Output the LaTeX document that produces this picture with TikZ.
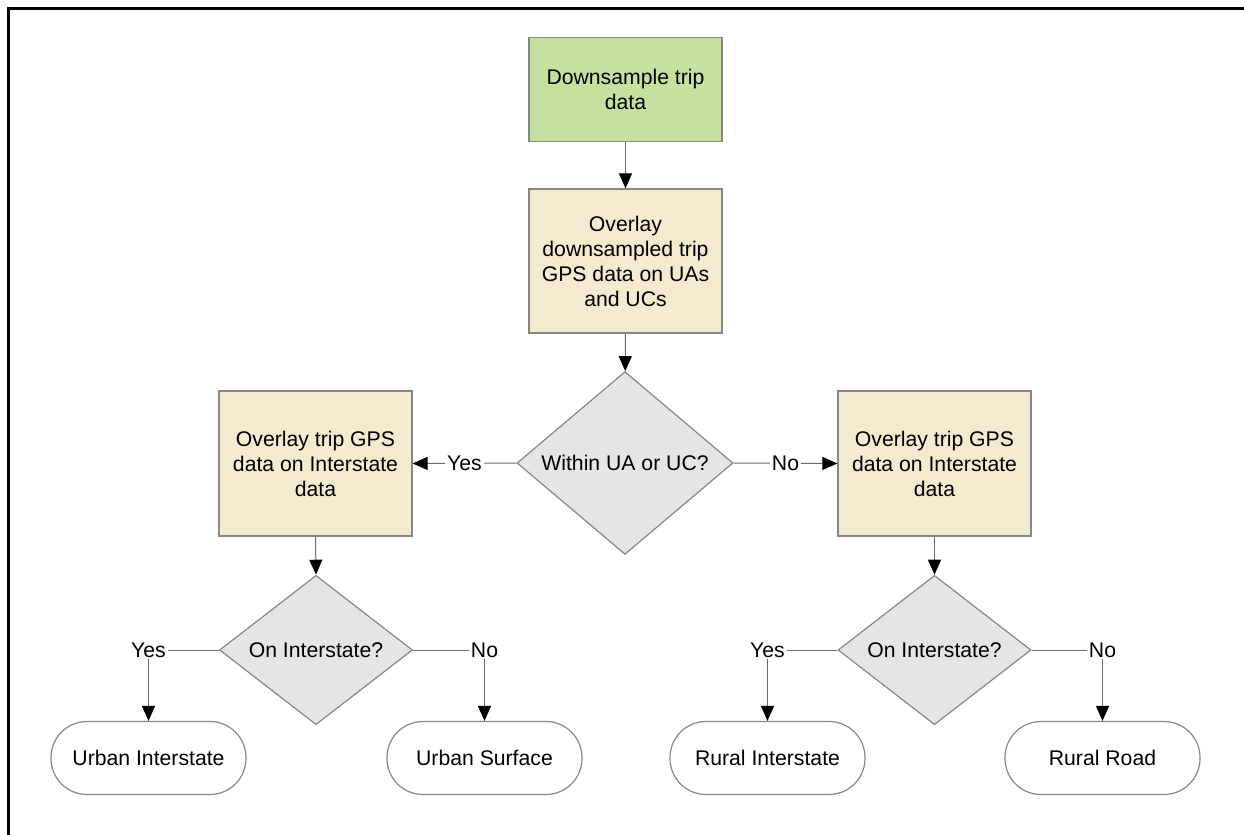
\documentclass[tikz,border=0pt]{standalone}
\usepackage{fontspec}
\setmainfont{Liberation Sans}
\usetikzlibrary{shapes.geometric,arrows.meta}
\definecolor{boxgreen}{RGB}{196,225,160}
\definecolor{boxtan}{RGB}{244,234,207}
\definecolor{diagray}{RGB}{229,229,229}
\definecolor{edgegray}{RGB}{135,135,135}
\definecolor{linegray}{RGB}{105,105,105}
\begin{document}
\begin{tikzpicture}[x=0.5pt,y=-0.5pt,
  every node/.style={font=\fontsize{10.6}{12.5}\selectfont, text=black},
  proc/.style={draw=edgegray, line width=0.6pt, rectangle, minimum width=96.5pt, align=center, inner sep=2pt},
  decis/.style={draw=edgegray, line width=0.6pt, diamond, fill=diagray, inner sep=0pt},
  term/.style={draw=edgegray, line width=0.6pt, rectangle, rounded corners=18pt, minimum width=97.5pt, minimum height=36.5pt, fill=white},
  conn/.style={draw=linegray, line width=0.5pt, -{Triangle[width=6.5pt,length=7.5pt,black]}},
  lbl/.style={fill=white, inner sep=1pt}
]
\useasboundingbox (0,0) rectangle (1244,835);
\draw[line width=1.6pt] (8.5,835) -- (8.5,8.5) -- (1244,8.5);

\node[proc, fill=boxgreen, minimum height=52pt] (down) at (625.5,89.5) {Downsample trip\\data};
\node[proc, fill=boxtan, minimum height=72pt] (overlay) at (625.5,261) {Overlay\\downsampled trip\\GPS data on UAs\\and UCs};
\node[decis, minimum width=108pt, minimum height=81pt] (within) at (625,463) {Within UA or UC?};
\node[proc, fill=boxtan, minimum height=72.5pt] (lbox) at (315.5,463.5) {Overlay trip GPS\\data on Interstate\\data};
\node[proc, fill=boxtan, minimum height=72.5pt] (rbox) at (934.5,463.5) {Overlay trip GPS\\data on Interstate\\data};
\node[decis, minimum width=96.5pt, minimum height=72pt] (dl) at (316,650) {On Interstate?};
\node[decis, minimum width=96.5pt, minimum height=72pt] (dr) at (934.5,650) {On Interstate?};
\node[term] (t1) at (148.5,758) {Urban Interstate};
\node[term] (t2) at (484.5,758) {Urban Surface};
\node[term] (t3) at (767.5,758) {Rural Interstate};
\node[term] (t4) at (1102.5,758) {Rural Road};

\draw[conn] (down) -- (overlay);
\draw[conn] (overlay) -- (within);
\draw[conn] (within.west) -- node[lbl] {Yes} (lbox.east);
\draw[conn] (within.east) -- node[lbl] {No} (rbox.west);
\draw[conn] (lbox.south) -- (dl.north);
\draw[conn] (rbox.south) -- (dr.north);
\draw[conn] (dl.west) -| node[lbl] {Yes} (t1.north);
\draw[conn] (dl.east) -| node[lbl] {No} (t2.north);
\draw[conn] (dr.west) -| node[lbl] {Yes} (t3.north);
\draw[conn] (dr.east) -| node[lbl] {No} (t4.north);
\end{tikzpicture}
\end{document}
